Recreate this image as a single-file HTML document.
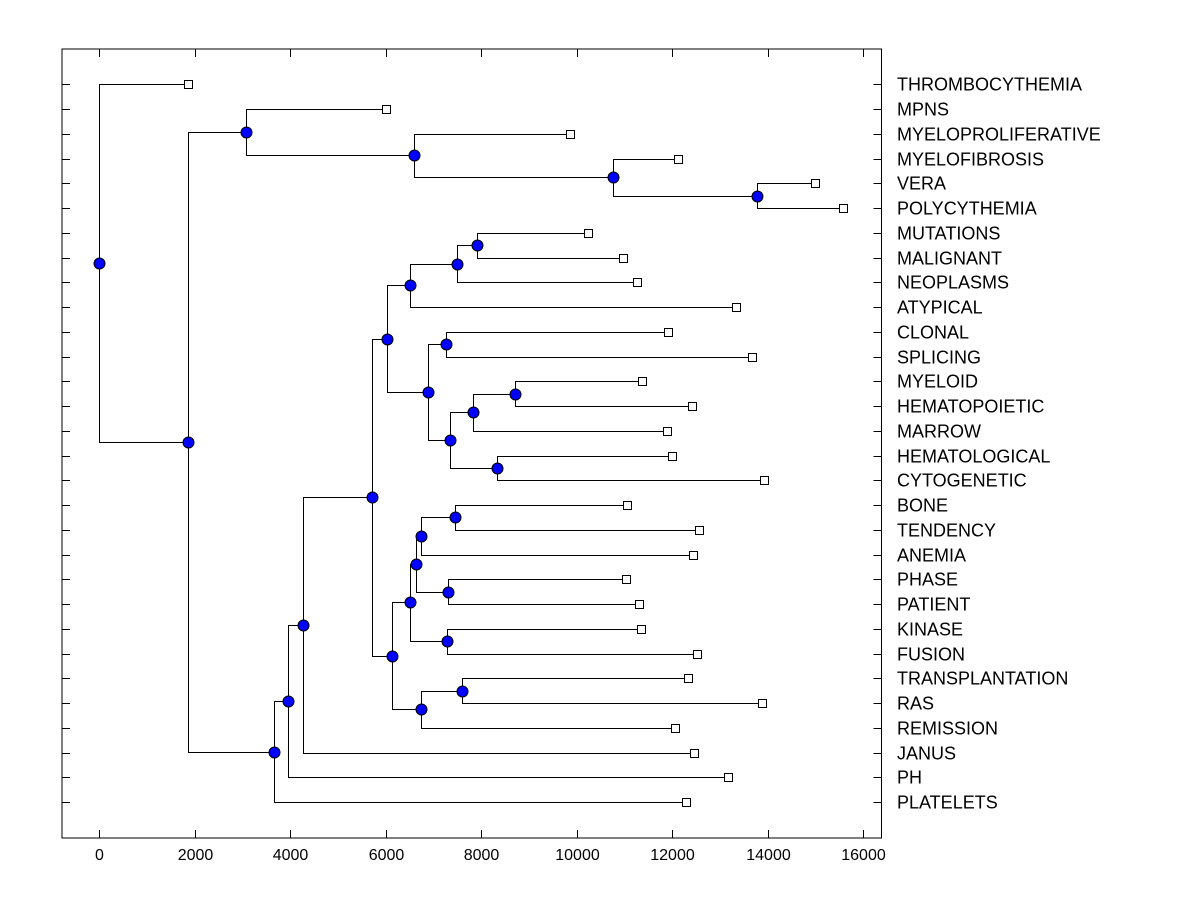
<!DOCTYPE html>
<html><head><meta charset="utf-8"><style>
body{margin:0;background:#fff}
svg text{font-family:"Liberation Sans",Arial,sans-serif;font-size:16px;fill:#000}
svg text.lab{font-size:18px}
</style></head><body>
<svg id="chart" width="1200" height="900" xmlns="http://www.w3.org/2000/svg"></svg>
<script>
const leafLabels=["THROMBOCYTHEMIA","MPNS","MYELOPROLIFERATIVE","MYELOFIBROSIS","VERA","POLYCYTHEMIA","MUTATIONS","MALIGNANT","NEOPLASMS","ATYPICAL","CLONAL","SPLICING","MYELOID","HEMATOPOIETIC","MARROW","HEMATOLOGICAL","CYTOGENETIC","BONE","TENDENCY","ANEMIA","PHASE","PATIENT","KINASE","FUSION","TRANSPLANTATION","RAS","REMISSION","JANUS","PH","PLATELETS"];
const leafValues=[1858,6004,9858,12120,14989,15576,10234,10967,11260,13333,11910,13670,11365,12412,11889,11994,13920,11052,12560,12434,11031,11303,11345,12518,12330,13880,12058,12455,13167,12287];
// merges: [childA, childB]; indices >=30 refer to node (index-30)
const mergeChildren=[[4,5],[3,30],[2,31],[1,32],[6,7],[34,8],[35,9],[10,11],[12,13],[38,14],[15,16],[39,40],[37,41],[36,42],[17,18],[44,19],[20,21],[45,46],[22,23],[47,48],[24,25],[50,26],[49,51],[43,52],[53,27],[54,28],[55,29],[33,56],[0,57]];
const mergeValues=[13770,10758,6591,3072,7910,7491,6507,7261,8706,7826,8329,7345,6884,6030,7449,6737,7303,6633,7282,6507,7596,6737,6130,5711,4266,3952,3659,1858,0];
const xTicks=[0,2000,4000,6000,8000,10000,12000,14000,16000];

const svg=document.getElementById('chart');
const NS='http://www.w3.org/2000/svg';
const L=62,R=881.5,T=49,B=838;
const xs=v=>99.3+v*0.04775;
const ys=i=>84.3+i*(802-84.3)/29;
function mk(tag,attrs,parent){const e=document.createElementNS(NS,tag);for(const k in attrs)e.setAttribute(k,attrs[k]);(parent||svg).appendChild(e);return e;}
const frame=mk('rect',{x:L,y:T,width:R-L,height:B-T,fill:'none',stroke:'#000','stroke-width':1,'shape-rendering':'crispEdges'});


xTicks.forEach(t=>{
  const x=Math.round(xs(t))+0.5;
  mk('line',{x1:x,x2:x,y1:B,y2:B-8,stroke:'#000','shape-rendering':'crispEdges'});
  mk('line',{x1:x,x2:x,y1:T,y2:T+8,stroke:'#000','shape-rendering':'crispEdges'});
  const tx=mk('text',{x:x,y:B+22,'text-anchor':'middle'});tx.textContent=t;
  
  
});
leafLabels.forEach((lab,i)=>{
  const y=Math.round(ys(i))+0.5;
  mk('line',{x1:L,x2:L+8,y1:y,y2:y,stroke:'#000','shape-rendering':'crispEdges'});
  mk('line',{x1:R,x2:R-8,y1:y,y2:y,stroke:'#000','shape-rendering':'crispEdges'});
  const tx=mk('text',{x:897,y:y+6,'class':'lab'});tx.textContent=lab;
  
  
});
const nx=[],ny=[];
leafValues.forEach((v,i)=>{nx[i]=xs(v);ny[i]=ys(i);});
const g=mk('g',{stroke:'#000',fill:'none','shape-rendering':'crispEdges'});


mergeChildren.forEach((c,j)=>{
  const id=30+j;nx[id]=xs(mergeValues[j]);ny[id]=(ny[c[0]]+ny[c[1]])/2;
  const x=Math.round(nx[id])+0.5;
  const y0=Math.round(ny[c[0]])+0.5,y1=Math.round(ny[c[1]])+0.5;
  mk('polyline',{points:`${Math.round(nx[c[0]])},${y0} ${x},${y0} ${x},${y1} ${Math.round(nx[c[1]])},${y1}`},g);
});
leafValues.forEach((v,i)=>{
  const r=mk('rect',{x:Math.round(nx[i])-4+0.5,y:Math.round(ny[i])-4+0.5,width:8,height:8,fill:'#fff',stroke:'#000','shape-rendering':'crispEdges'});
  
  
});
mergeChildren.forEach((c,j)=>{
  const id=30+j;
  const ci=mk('circle',{cx:Math.round(nx[id])+0.5,cy:Math.round(ny[id])+0.5,r:5.5,fill:'#0000ff',stroke:'#000','stroke-width':1});
  
  
});
</script>
</body></html>
